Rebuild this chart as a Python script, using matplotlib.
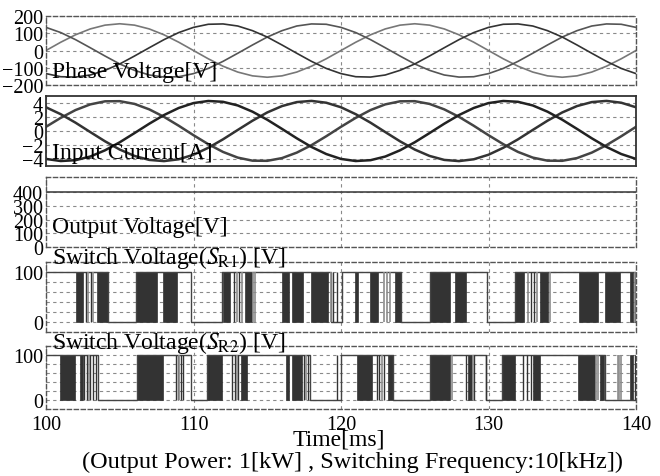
import numpy as np
import matplotlib
matplotlib.use('Agg')
import matplotlib.pyplot as plt

plt.rcParams['font.family'] = ['Liberation Serif', 'DejaVu Serif']
plt.rcParams['mathtext.fontset'] = 'stix'

# sample times [ms], one point per ms
t = np.arange(100, 141)

# phase voltages [V]
va = [0, 48, 91, 125, 147, 155, 147, 125, 91, 48, 0, -48, -91, -125, -147, -155, -147, -125, -91, -48,
      0, 48, 91, 125, 147, 155, 147, 125, 91, 48, 0, -48, -91, -125, -147, -155, -147, -125, -91, -48, 0]
vb = [134, 104, 63, 16, -32, -78, -115, -142, -154, -152, -134, -104, -63, -16, 32, 78, 115, 142, 154, 152,
      134, 104, 63, 16, -32, -78, -115, -142, -154, -152, -134, -104, -63, -16, 32, 78, 115, 142, 154, 152, 134]
vc = [-134, -152, -154, -142, -115, -78, -32, 16, 63, 104, 134, 152, 154, 142, 115, 78, 32, -16, -63, -104,
      -134, -152, -154, -142, -115, -78, -32, 16, 63, 104, 134, 152, 154, 142, 115, 78, 32, -16, -63, -104, -134]

# input currents [A]
ia = [0.60, 1.88, 2.99, 3.80, 4.24, 4.26, 3.87, 3.09, 2.02, 0.75, -0.60, -1.88, -2.99, -3.80, -4.24, -4.26,
      -3.87, -3.09, -2.02, -0.75, 0.60, 1.88, 2.99, 3.80, 4.24, 4.26, 3.87, 3.09, 2.02, 0.75, -0.60, -1.88,
      -2.99, -3.80, -4.24, -4.26, -3.87, -3.09, -2.02, -0.75, 0.60]
ib = [3.39, 2.40, 1.19, -0.15, -1.47, -2.65, -3.56, -4.13, -4.30, -4.04, -3.39, -2.40, -1.19, 0.15, 1.47, 2.65,
      3.56, 4.13, 4.30, 4.04, 3.39, 2.40, 1.19, -0.15, -1.47, -2.65, -3.56, -4.13, -4.30, -4.04, -3.39, -2.40,
      -1.19, 0.15, 1.47, 2.65, 3.56, 4.13, 4.30, 4.04, 3.39]
ic = [-3.99, -4.29, -4.17, -3.65, -2.76, -1.61, -0.30, 1.04, 2.28, 3.29, 3.99, 4.29, 4.17, 3.65, 2.76, 1.61,
      0.30, -1.04, -2.28, -3.29, -3.99, -4.29, -4.17, -3.65, -2.76, -1.61, -0.30, 1.04, 2.28, 3.29, 3.99, 4.29,
      4.17, 3.65, 2.76, 1.61, 0.30, -1.04, -2.28, -3.29, -3.99]

# output voltage [V]
vo_t = [100, 140]
vo = [400, 400]

# switch S_R1: base level steps, dense PWM blocks, single pulses
sr1_step_t = [100, 104.2, 106.1, 109.8, 111.95, 119.35, 120.05, 124.1, 126.03, 129.9, 131.8, 140]
sr1_step_v = [100, 0, 100, 0, 100, 0, 100, 0, 100, 0, 100, 100]
sr1_blocks = [(102.03, 102.53), (103.45, 104.2), (106.1, 107.5), (107.95, 108.86), (111.98, 112.5),
              (113.5, 113.95), (116.03, 116.5), (116.68, 117.4), (117.95, 119.15), (120.95, 121.17),
              (121.97, 122.53), (123.66, 124.1), (126.03, 127.4), (127.7, 128.5), (131.8, 132.4),
              (133.5, 134.05), (136.15, 137.45), (137.9, 138.9), (139.6, 139.8)]
sr1_dark = [102.72, 103.03, 112.72, 113.1, 119.45, 119.75, 132.85, 133.1, 139.9]
sr1_gray = [102.87, 103.2, 112.95, 113.3, 114.05, 114.15, 119.3, 122.9, 123.1, 123.3, 132.7, 133.3, 134.2, 139.95]

# switch S_R2
sr2_step_t = [100, 103.55, 106.2, 109.85, 110.9, 117.9, 120.0, 123.55, 126.03, 129.85, 130.9, 137.9, 140]
sr2_step_v = [100, 0, 100, 0, 100, 0, 100, 0, 100, 0, 100, 0, 0]
sr2_blocks = [(100.95, 101.97), (102.3, 102.5), (106.2, 107.95), (110.9, 111.9), (113.2, 113.6),
              (116.3, 116.5), (116.66, 117.33), (121.06, 122.08), (123.2, 123.55), (126.03, 127.4),
              (128.6, 128.85), (130.9, 131.8), (133.0, 133.5), (136.1, 137.2), (137.55, 137.85),
              (139.6, 139.8)]
sr2_dark = [102.6, 102.75, 103.0, 103.2, 103.4, 108.8, 108.95, 109.15, 109.3, 112.6, 112.8, 113.05,
            117.5, 117.75, 119.7, 122.45, 122.6, 122.9, 128.45, 129.05, 129.8, 132.35, 132.6, 132.85, 139.95]
sr2_gray = [102.9, 109.05, 112.95, 117.6, 122.75, 127.5, 128.95, 137.3, 137.4, 138.75, 138.85, 138.95]

W, H = 660, 477
fig = plt.figure(figsize=(W / 100, H / 100), dpi=100)


def panel(top, bottom, solid=False):
    ax = fig.add_axes([46 / W, 1 - bottom / H, 590 / W, (bottom - top) / H])
    ax.set_xlim(100, 140)
    ax.set_xticks([100, 110, 120, 130, 140])
    ax.tick_params(length=0, labelsize=14.5, pad=2)
    ax.tick_params(axis='x', labelbottom=False)
    ax.grid(True, color='#8a8a8a', linestyle=(0, (3, 3)), linewidth=0.8)
    ax.set_axisbelow(True)
    for sp in ax.spines.values():
        if solid:
            sp.set_color('#333333')
            sp.set_linewidth(1.3)
        else:
            sp.set_color('#555555')
            sp.set_linestyle((0, (3, 2)))
            sp.set_linewidth(1.0)
    return ax


gridstyle = dict(color='#8a8a8a', linestyle=(0, (3, 3)), linewidth=0.8, zorder=0)

# phase voltage
ax1 = panel(17, 86)
ax1.plot(t, va, color='#777777', lw=1.2)
ax1.plot(t, vb, color='#555555', lw=1.2)
ax1.plot(t, vc, color='#333333', lw=1.2)
ax1.set_ylim(-200, 200)
ax1.set_yticks([-200, -100, 0, 100, 200])
ax1.text(0.01, 0.19, 'Phase Voltage[V]', transform=ax1.transAxes, fontsize=17, va='center')

# input current
ax2 = panel(97, 167, solid=True)
ax2.plot(t, ia, color='#444444', lw=1.8)
ax2.plot(t, ib, color='#333333', lw=1.8)
ax2.plot(t, ic, color='#222222', lw=1.8)
ax2.set_ylim(-5, 5)
ax2.set_yticks([-4, -2, 0, 2, 4])
ax2.text(0.01, 0.2, 'Input Current[A]', transform=ax2.transAxes, fontsize=17, va='center')

# output voltage
ax3 = panel(178, 248)
ax3.plot(vo_t, vo, color='#444444', lw=1.2)
ax3.set_ylim(0, 510)
ax3.set_yticks([0, 100, 200, 300, 400])
ax3.text(0.01, 0.29, 'Output Voltage[V]', transform=ax3.transAxes, fontsize=17, va='center')


def switch(ax, st, sv, blocks, dark, gray, label):
    for y in [20, 40, 60, 80]:
        ax.axhline(y, **gridstyle)
    ax.step(st, sv, where='post', color='#444444', lw=1.0)
    ax.bar(x=[b[0] for b in blocks], height=100, width=[b[1] - b[0] for b in blocks], bottom=0,
           align='edge', color='#333333', edgecolor='#333333', lw=0.5)
    ax.vlines(dark, 0, 100, color='#333333', lw=1.0)
    ax.vlines(gray, 0, 100, color='#8c8c8c', lw=1.2)
    ax.set_ylim(-20, 120)
    ax.set_yticks([0, 100])
    ax.text(0.01, 1.07, label, transform=ax.transAxes, fontsize=17, va='center')


ax4 = panel(263, 333)
switch(ax4, sr1_step_t, sr1_step_v, sr1_blocks, sr1_dark, sr1_gray,
       r'Switch Voltage($S_{\mathrm{R1}}$) [V]')

ax5 = panel(347, 410)
switch(ax5, sr2_step_t, sr2_step_v, sr2_blocks, sr2_dark, sr2_gray,
       r'Switch Voltage($S_{\mathrm{R2}}$) [V]')
ax5.tick_params(axis='x', labelbottom=True, pad=4)

fig.text(339 / W, 1 - 440 / H, 'Time[ms]', ha='center', va='center', fontsize=17)
fig.text(352 / W, 1 - 462 / H, '(Output Power: 1[kW] , Switching Frequency:10[kHz])',
         ha='center', va='center', fontsize=17.5)

fig.savefig('out.png', dpi=100)
